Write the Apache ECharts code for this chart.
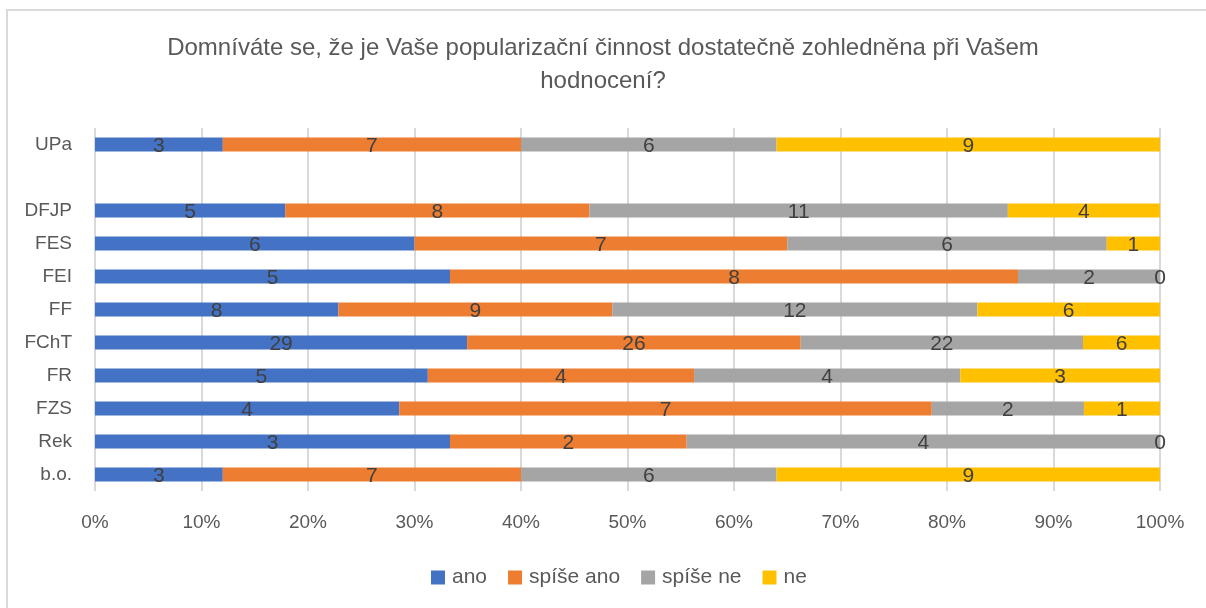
<!DOCTYPE html>
<html>
<head>
<meta charset="utf-8">
<style>
    html,body{margin:0;padding:0;background:#fff;}
    #frame{position:absolute;left:6px;top:9px;width:1300px;height:700px;border-left:2px solid #d9d9d9;border-top:2px solid #d9d9d9;}
    #main{position:absolute;left:0;top:0;width:1206px;height:608px;}
</style>
<script src="https://cdn.jsdelivr.net/npm/echarts@6/dist/echarts.min.js"></script>
</head>
<body>
<div id="frame"></div>
<div id="main"></div>
<script>
    // kategorie odshora dolů, prázdná řádka mezi UPa a fakultami
    var categories = ['UPa', '', 'DFJP', 'FES', 'FEI', 'FF', 'FChT', 'FR', 'FZS', 'Rek', 'b.o.'];
    var ano       = [3, null, 5, 6, 5, 8, 29, 5, 4, 3, 3];
    var spiseAno  = [7, null, 8, 7, 8, 9, 26, 4, 7, 2, 7];
    var spiseNe   = [6, null, 11, 6, 2, 12, 22, 4, 2, 4, 6];
    var ne        = [9, null, 4, 1, 0, 6, 6, 3, 1, 0, 9];
    var seriesNames = ['ano', 'spíše ano', 'spíše ne', 'ne'];
    var colors = ['#4472C4', '#ED7D31', '#A5A5A5', '#FFC000'];

    var counts = [ano, spiseAno, spiseNe, ne];
    var font = 'Liberation Sans, sans-serif';

    function totalAt(i) {
        var s = 0;
        counts.forEach(function (arr) { s += arr[i] || 0; });
        return s;
    }

    var series = counts.map(function (arr, k) {
        return {
            name: seriesNames[k],
            type: 'bar',
            stack: 'total',
            barWidth: 14,
            data: arr.map(function (v, i) {
                if (v === null) return '-';
                return { value: v / totalAt(i) * 100, count: v };
            }),
            label: {
                show: true,
                position: 'inside',
                offset: [0, 2],
                color: '#404040',
                fontSize: 21,
                fontFamily: font,
                formatter: function (p) { return p.data.count; }
            }
        };
    });

    var myChart = echarts.init(document.getElementById('main'));
    var option = {
        color: colors,
        animation: false,
        title: {
            text: 'Domníváte se, že je Vaše popularizační činnost dostatečně zohledněna při Vašem\nhodnocení?',
            left: 'center',
            top: 27,
            textStyle: {
                color: '#595959',
                fontSize: 24,
                fontWeight: 'normal',
                fontFamily: font,
                lineHeight: 33
            }
        },
        legend: {
            data: seriesNames,
            top: 562,
            left: 426,
            icon: 'rect',
            itemWidth: 14,
            itemHeight: 14,
            itemGap: 21,
            itemStyle: { borderWidth: 0 },
            textStyle: { color: '#595959', fontSize: 21, fontFamily: font, padding: [0, 0, 0, 2] }
        },
        grid: {
            left: 95,
            right: 46,
            top: 128,
            bottom: 117
        },
        xAxis: {
            type: 'value',
            min: 0,
            max: 100,
            interval: 10,
            axisLine: { show: false },
            axisTick: { show: false },
            splitLine: { lineStyle: { color: '#d9d9d9', width: 2 } },
            axisLabel: {
                formatter: '{value}%',
                color: '#595959',
                fontSize: 19,
                fontFamily: font,
                margin: 22
            }
        },
        yAxis: {
            type: 'category',
            inverse: true,
            data: categories,
            axisLine: { show: false },
            axisTick: { show: false },
            axisLabel: {
                color: '#595959',
                fontSize: 19,
                fontFamily: font,
                margin: 23
            }
        },
        series: series
    };
    myChart.setOption(option);
</script>
</body>
</html>
